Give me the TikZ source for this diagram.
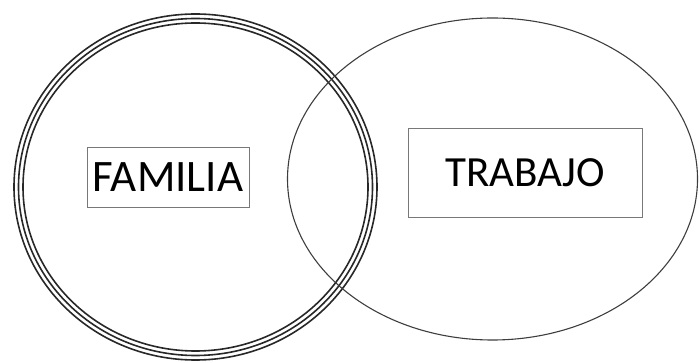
\documentclass[tikz,border=0pt]{standalone}
\usepackage{fontspec}
\setmainfont{Carlito}
\usepackage{tikz}
\definecolor{inkgray}{RGB}{40,40,40}
\definecolor{boxgray}{RGB}{120,120,120}

\begin{document}
\begin{tikzpicture}[
  x=1pt, y=-1pt,
  ring/.style={line width=1.6pt, inkgray},
  oval/.style={line width=1.1pt, inkgray!90},
  labelbox/.style={draw=boxgray, line width=0.9pt, inner sep=0pt,
                   text=black, font=\fontsize{45}{50}\selectfont},
]
\useasboundingbox (0,0) rectangle (699,363);

% -------------------------------------------------------------------------
% Left set: a triple-lined circle.
% -------------------------------------------------------------------------
\draw[ring] (195.5,187) ellipse [x radius=181.5, y radius=173];
\draw[ring] (195.5,187) ellipse [x radius=177, y radius=168.5];
\draw[ring] (195.5,187) ellipse [x radius=172.5, y radius=164];

% -------------------------------------------------------------------------
% Right set: a single thin ellipse.
% -------------------------------------------------------------------------
\draw[oval] (492.5,179) ellipse [x radius=205, y radius=161];

\node[labelbox, minimum width=162pt, minimum height=60pt]
  (familia) at (168,177) {FAMILIA};
\node[labelbox, minimum width=234pt, minimum height=89pt]
  (trabajo) at (525,172.5) {\fontsize{43}{48}\selectfont TRABAJO};

\end{tikzpicture}
\end{document}
